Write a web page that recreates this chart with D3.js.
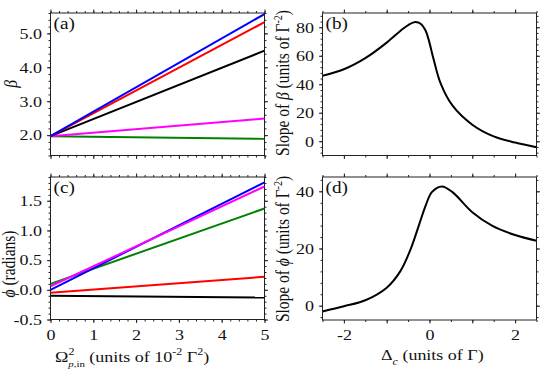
<!DOCTYPE html>
<html><head><meta charset="utf-8">
<script src="https://cdn.jsdelivr.net/npm/d3@7"></script>
<style>
body{margin:0;background:#fff}
text{font-family:"Liberation Serif","Times New Roman",serif;fill:#111}
</style>
</head><body>
<svg id="chart" width="540" height="373"></svg>
<script>
// ---------- data ----------
const omegaX = [0, 5];                       // Ω²_{p,in} (10^-2 Γ²)
const betaBlue    = [1.97, 5.57];
const betaRed     = [1.97, 5.33];
const betaBlack   = [1.97, 4.49];
const betaMagenta = [1.97, 2.49];
const betaGreen   = [1.97, 1.89];

const phiBlue    = [0.00, 1.81];
const phiMagenta = [0.06, 1.74];
const phiGreen   = [0.10, 1.37];
const phiRed     = [-0.05, 0.22];
const phiBlack   = [-0.10, -0.13];

const deltaB    = [-2.5, -2.0, -1.5, -1.0, -0.65, -0.48, -0.33, -0.2, -0.09, -0.02, 0.10, 0.26, 0.53, 1.0, 1.5, 2.0, 2.5];
const slopeBeta = [46.0, 50.5, 58.3, 69.2, 78.2, 81.9, 83.6, 82.3, 77.5, 71.3, 57.1, 40.6, 25.3, 11.6, 3.4, -0.9, -4.2];

const deltaD   = [-2.5, -2.0, -1.5, -1.0, -0.68, -0.44, -0.25, -0.09, 0.06, 0.29, 0.53, 1.0, 1.46, 2.0, 2.5];
const slopePhi = [-2.0, -0.2, 1.9, 6.3, 12.1, 19.8, 28.0, 35.0, 39.8, 41.7, 39.8, 32.7, 28.0, 24.7, 22.7];

const omegaTicks = [0, 1, 2, 3, 4, 5];
const betaTicks  = [2, 3, 4, 5];
const phiTicks   = [-0.5, 0, 0.5, 1.0, 1.5];
const deltaTicks = [-2, -1, 0, 1, 2];
const deltaLabels = [-2, 0, 2];
const slopeBTicks = [0, 20, 40, 60, 80];
const slopePTicks = [0, 20, 40];

// ---------- layout ----------
const svg = d3.select("#chart");
const SX = 1.2;   // horizontal stretch of the original figure's glyphs
const hy = s => String(s).replace("\u2212", "-");

function panel(o) {
  const x = d3.scaleLinear().domain(o.xd).range([o.x0, o.x1]);
  const y = d3.scaleLinear().domain(o.yd).range([o.y1, o.y0]);
  const g = svg.append("g");
  const minorX = d3.range(o.xd[0], o.xd[1] + 1e-9, o.xMinor).map(v => +v.toFixed(6));
  const minorY = d3.range(Math.ceil(o.yd[0] / o.yMinor - 1e-9) * o.yMinor, o.yd[1] + 1e-9, o.yMinor).map(v => +v.toFixed(6));
  const tickStyle = sel => { sel.selectAll("path").remove(); sel.selectAll("line").attr("stroke", "#222").attr("stroke-width", 1); };
  // minor ticks
  g.append("g").attr("transform", `translate(0,${o.y1})`).call(d3.axisBottom(x).tickValues(minorX).tickSize(2).tickFormat("")).call(tickStyle);
  g.append("g").attr("transform", `translate(0,${o.y0})`).call(d3.axisTop(x).tickValues(minorX).tickSize(2).tickFormat("")).call(tickStyle);
  g.append("g").attr("transform", `translate(${o.x0},0)`).call(d3.axisLeft(y).tickValues(minorY).tickSize(2).tickFormat("")).call(tickStyle);
  g.append("g").attr("transform", `translate(${o.x1},0)`).call(d3.axisRight(y).tickValues(minorY).tickSize(2).tickFormat("")).call(tickStyle);
  // major ticks
  const bx = g.append("g").attr("transform", `translate(0,${o.y1})`)
    .call(d3.axisBottom(x).tickValues(o.xTicks).tickSize(3.5).tickPadding(6)
      .tickFormat(d => (o.showX && o.xLabels.includes(d)) ? hy(o.xf(d)) : "")).call(tickStyle);
  g.append("g").attr("transform", `translate(0,${o.y0})`).call(d3.axisTop(x).tickValues(o.xTicks).tickSize(3.5).tickFormat("")).call(tickStyle);
  const ly = g.append("g").attr("transform", `translate(${o.x0},0)`)
    .call(d3.axisLeft(y).tickValues(o.yTicks).tickSize(3.5).tickPadding(5).tickFormat(d => hy(o.yf(d)))).call(tickStyle);
  g.append("g").attr("transform", `translate(${o.x1},0)`).call(d3.axisRight(y).tickValues(o.yTicks).tickSize(3.5).tickFormat("")).call(tickStyle);
  g.selectAll("text").attr("font-size", 15).attr("font-family", '"Liberation Serif",serif').attr("fill", "#111");
  ly.selectAll("text").each(function () {
    const t = d3.select(this); const xx = +t.attr("x");
    t.attr("x", null).attr("transform", `translate(${xx},0) scale(${SX},1)`);
  });
  bx.selectAll("text").attr("transform", `scale(${SX},1)`);
  // frame
  g.append("rect").attr("x", o.x0).attr("y", o.y0).attr("width", o.x1 - o.x0).attr("height", o.y1 - o.y0)
    .attr("fill", "none").attr("stroke", "#222").attr("stroke-width", 1);
  // clip
  const id = "clip" + o.label;
  svg.append("clipPath").attr("id", id).append("rect").attr("x", o.x0).attr("y", o.y0).attr("width", o.x1 - o.x0).attr("height", o.y1 - o.y0);
  const plot = svg.append("g").attr("clip-path", `url(#${id})`);
  // panel label
  svg.append("text").attr("transform", `translate(${o.x0 + 3},${o.y0 + 15.5}) scale(${SX},1)`)
    .attr("font-size", 16).text(`(${o.label})`);
  return { x, y, plot };
}

const fmt1 = d3.format(".1f");
const fmt0 = d3.format("d");

const A = panel({ label: "a", x0: 50.5, x1: 264.5, y0: 13, y1: 155.5, xd: [0, 5], yd: [1.4, 5.6],
  xTicks: omegaTicks, xLabels: omegaTicks, yTicks: betaTicks, xMinor: 0.2, yMinor: 0.2, showX: false, xf: fmt0, yf: fmt1 });
const B = panel({ label: "b", x0: 322.5, x1: 536.5, y0: 13, y1: 155.5, xd: [-2.5, 2.5], yd: [-10, 90],
  xTicks: deltaTicks, xLabels: deltaLabels, yTicks: slopeBTicks, xMinor: 0.5, yMinor: 4, showX: false, xf: fmt0, yf: fmt0 });
const C = panel({ label: "c", x0: 50.5, x1: 264.5, y0: 177, y1: 319.5, xd: [0, 5], yd: [-0.5, 1.9],
  xTicks: omegaTicks, xLabels: omegaTicks, yTicks: phiTicks, xMinor: 0.2, yMinor: 0.1, showX: true, xf: fmt0, yf: fmt1 });
const D = panel({ label: "d", x0: 322.5, x1: 536.5, y0: 177, y1: 320, xd: [-2.5, 2.5], yd: [-5, 45],
  xTicks: deltaTicks, xLabels: deltaLabels, yTicks: slopePTicks, xMinor: 0.5, yMinor: 4, showX: true, xf: fmt0, yf: fmt0 });

// ---------- lines ----------
function drawSeries(P, xs, ys, color, curve) {
  const pts = xs.map((v, i) => [v, ys[i]]);
  P.plot.append("path").datum(pts)
    .attr("d", d3.line().x(d => P.x(d[0])).y(d => P.y(d[1])).curve(curve || d3.curveLinear))
    .attr("fill", "none").attr("stroke", color).attr("stroke-width", 2).attr("stroke-linejoin", "round");
}
const BLUE = "#0000ff", RED = "#ff0000", BLACK = "#000000", MAGENTA = "#ff00ff", GREEN = "#008000";
drawSeries(A, omegaX, betaGreen, GREEN);
drawSeries(A, omegaX, betaMagenta, MAGENTA);
drawSeries(A, omegaX, betaBlack, BLACK);
drawSeries(A, omegaX, betaRed, RED);
drawSeries(A, omegaX, betaBlue, BLUE);

drawSeries(C, omegaX, phiBlack, BLACK);
drawSeries(C, omegaX, phiRed, RED);
drawSeries(C, omegaX, phiGreen, GREEN);
drawSeries(C, omegaX, phiBlue, BLUE);
drawSeries(C, omegaX, phiMagenta, MAGENTA);

drawSeries(B, deltaB, slopeBeta, BLACK, d3.curveCatmullRom.alpha(0.5));
drawSeries(D, deltaD, slopePhi, BLACK, d3.curveCatmullRom.alpha(0.5));

// ---------- axis titles ----------
// rotated titles: reading direction vertical, glyph height stretched horizontally
function vTitle(x, y, build) {
  const t = svg.append("text").attr("transform", `translate(${x},${y}) rotate(-90) scale(1,${SX})`)
    .attr("text-anchor", "middle").attr("font-size", 15.5);
  build(t);
}
vTitle(17, 84, t => t.append("tspan").attr("font-style", "italic").text("β"));
vTitle(15, 264, t => { t.append("tspan").attr("font-style", "italic").text("ϕ"); t.append("tspan").text(" (radians)"); });
vTitle(289, 83, t => {
  t.append("tspan").text("Slope of ");
  t.append("tspan").attr("font-style", "italic").text("β");
  t.append("tspan").text(" (units of Γ");
  t.append("tspan").attr("font-size", 10).attr("dy", -6).text("-2");
  t.append("tspan").attr("dy", 6).text(")");
});
vTitle(289, 249, t => {
  t.append("tspan").text("Slope of ");
  t.append("tspan").attr("font-style", "italic").text("ϕ");
  t.append("tspan").text(" (units of Γ");
  t.append("tspan").attr("font-size", 10).attr("dy", -6).text("-2");
  t.append("tspan").attr("dy", 6).text(")");
});

// horizontal titles
const xt1 = svg.append("text").attr("transform", `translate(55,362) scale(${SX},1)`).attr("font-size", 15);
xt1.append("tspan").text("Ω");
xt1.append("tspan").attr("font-size", 10).attr("dy", -7).text("2");
xt1.append("tspan").attr("font-size", 9).attr("dx", -5).attr("dy", 12).attr("font-style", "italic").text("p");
xt1.append("tspan").attr("font-size", 9).text(",in");
xt1.append("tspan").attr("dy", -5).text(" (units of 10");
xt1.append("tspan").attr("font-size", 10).attr("dy", -7).text("-2");
xt1.append("tspan").attr("dy", 7).text(" Γ");
xt1.append("tspan").attr("font-size", 10).attr("dy", -7).text("2");
xt1.append("tspan").attr("dy", 7).text(")");

const xt2 = svg.append("text").attr("transform", `translate(381,360) scale(${SX},1)`).attr("font-size", 15);
xt2.append("tspan").text("Δ");
xt2.append("tspan").attr("font-size", 10).attr("dy", 5).attr("font-style", "italic").text("c");
xt2.append("tspan").attr("dy", -5).text(" (units of Γ)");
</script>
</body></html>
